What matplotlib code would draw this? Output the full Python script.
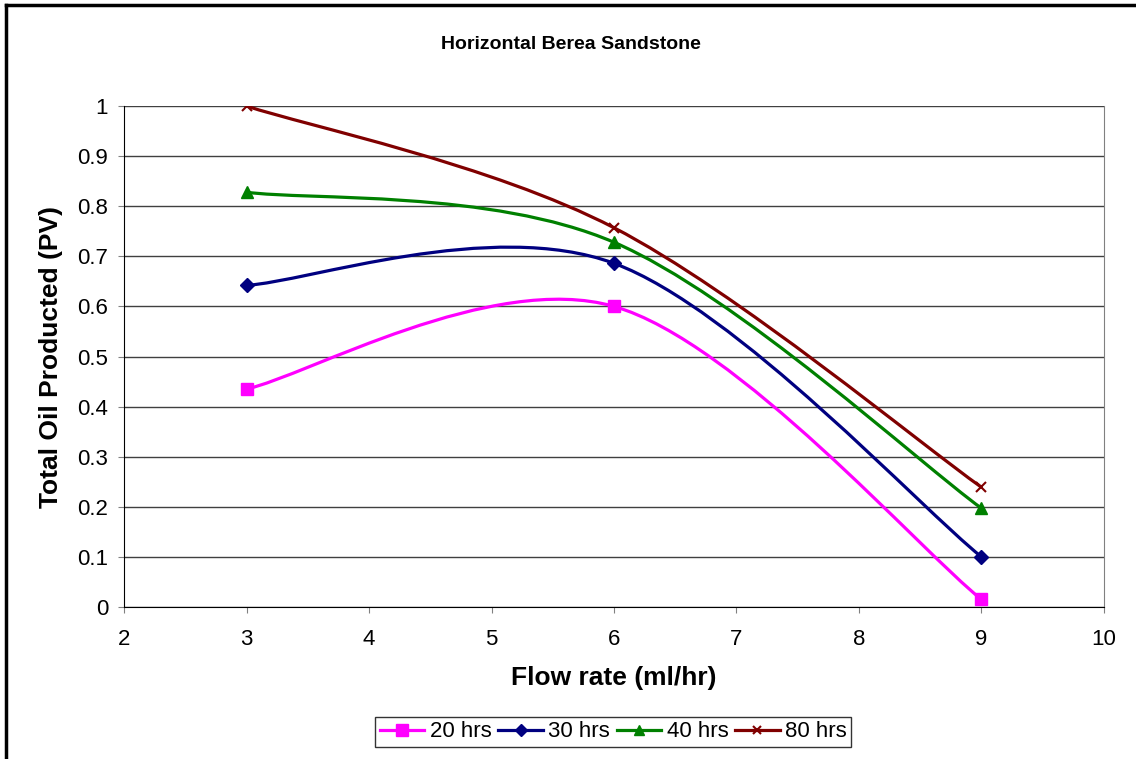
import numpy as np
import matplotlib
matplotlib.use('Agg')
import matplotlib.pyplot as plt
from matplotlib.path import Path
from matplotlib.patches import PathPatch
from matplotlib.lines import Line2D

plt.rcParams['font.family'] = ['Liberation Sans', 'DejaVu Sans']

# Data
flow_rate = [3, 6, 9]
oil_20 = [0.435, 0.600, 0.015]
oil_30 = [0.642, 0.686, 0.100]
oil_40 = [0.828, 0.728, 0.197]
oil_80 = [1.000, 0.757, 0.239]
labels = ['20 hrs', '30 hrs', '40 hrs', '80 hrs']

series = [oil_20, oil_30, oil_40, oil_80]
colors = ['#FF00FF', '#000080', '#008000', '#800000']
markers = ['s', 'D', '^', 'x']
msizes = [9, 7.5, 8, 7]


def smooth_path(xs, ys):
    '''Excel style smoothed line: cubic Bezier through the points'''
    pts = np.column_stack([xs, ys]).astype(float)
    n = len(pts)
    verts = [pts[0]]
    codes = [Path.MOVETO]
    for i in range(n - 1):
        p0 = pts[i - 1] if i > 0 else pts[i]
        p1 = pts[i]
        p2 = pts[i + 1]
        p3 = pts[i + 2] if i + 2 < n else pts[i + 1]
        c1 = p1 + (p2 - p0) / 6
        c2 = p2 - (p3 - p1) / 6
        verts += [c1, c2, p2]
        codes += [Path.CURVE4] * 3
    return Path(verts, codes)


fig = plt.figure(figsize=(11.36, 7.59), dpi=100)
ax = fig.add_axes([0.1092, 0.2003, 0.8626, 0.66])

for ys, c, m, ms in zip(series, colors, markers, msizes):
    patch = PathPatch(smooth_path(flow_rate, ys), facecolor='none', edgecolor=c, lw=2.3, zorder=3)
    ax.add_patch(patch)
    ax.plot(flow_rate, ys, linestyle='none', marker=m, color=c, markersize=ms,
            markeredgewidth=1.5 if m == 'x' else 1, zorder=4)

ax.set_xlim(2, 10)
ax.set_ylim(0, 1)
ax.set_xticks(range(2, 11))
ax.set_yticks(np.arange(0, 1.01, 0.1))
ax.set_yticklabels(['0', '0.1', '0.2', '0.3', '0.4', '0.5', '0.6', '0.7', '0.8', '0.9', '1'])
ax.tick_params(labelsize=16, direction='out', length=4.5, colors='#808080', labelcolor='black')
ax.tick_params(axis='x', pad=11)
ax.tick_params(axis='y', pad=7)
ax.yaxis.grid(True, color='#404040', lw=1)
ax.set_axisbelow(True)

ax.spines['top'].set_visible(False)
ax.spines['right'].set_color('#808080')
ax.spines['left'].set_color('black')
ax.spines['bottom'].set_color('black')

ax.set_xlabel('Flow rate (ml/hr)', fontsize=19, fontweight='bold', labelpad=12)
ax.set_ylabel('Total Oil Producted (PV)', fontsize=19, fontweight='bold', labelpad=10)
fig.text(0.503, 0.941, 'Horizontal Berea Sandstone', fontsize=14, fontweight='bold',
         ha='center', va='center')

handles = [Line2D([], [], color=c, marker=m, markersize=ms - 1, lw=2.3,
                  markeredgewidth=1.5 if m == 'x' else 1)
           for c, m, ms in zip(colors, markers, msizes)]
leg = fig.legend(handles, labels, loc='center', bbox_to_anchor=(0.540, 0.0356), ncol=4,
                 fontsize=16, frameon=True, fancybox=False, edgecolor='black',
                 handlelength=2.0, handletextpad=0.25, columnspacing=0.3,
                 borderpad=0.2, borderaxespad=0)
leg.get_frame().set_linewidth(1)

# Outer chart border (top and left edges visible)
fig.add_artist(Line2D([0.005, 0.005], [0, 0.993], transform=fig.transFigure, color='black', lw=2.5))
fig.add_artist(Line2D([0.005, 1], [0.993, 0.993], transform=fig.transFigure, color='black', lw=2.5))

fig.savefig('out.png', dpi=100, facecolor='white')
